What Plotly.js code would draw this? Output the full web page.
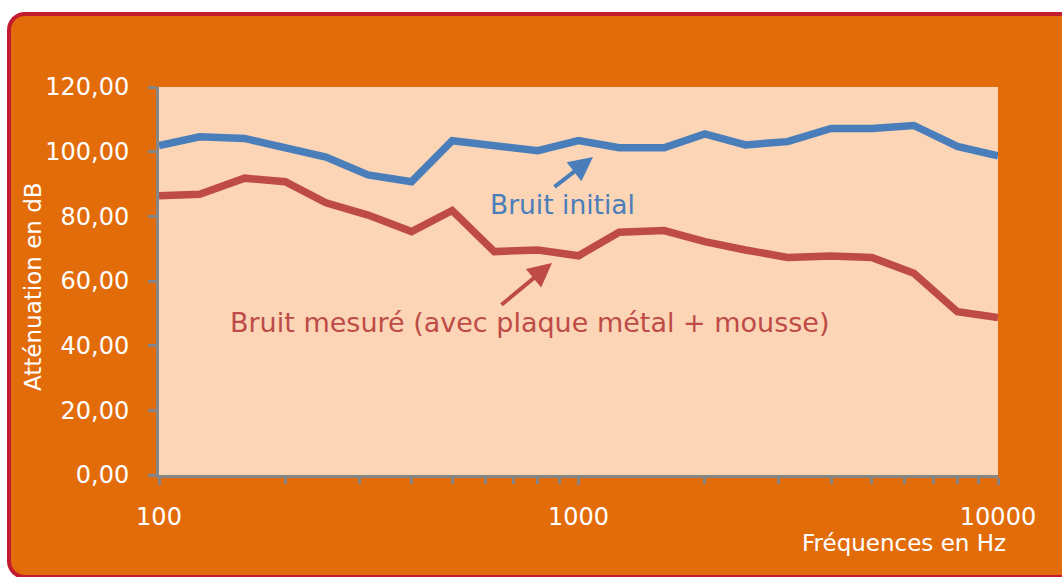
<!DOCTYPE html>
<html>
<head>
<meta charset="utf-8">
<script src="https://cdn.plot.ly/plotly-3.0.1.min.js"></script>
<style>
  html, body { margin: 0; padding: 0; background: #ffffff; overflow: hidden; width: 1062px; height: 577px; }
  #frame { position: absolute; left: 7px; top: 12px; width: 1055px; height: 567px; box-sizing: border-box;
           background: #E36C0A; border: 4px solid #C21A2E; border-right: none;
           border-radius: 18px 0 0 18px; z-index: 0; }
  #chart { position: absolute; left: 0; top: 0; width: 1062px; height: 577px; z-index: 1; }
</style>
</head>
<body>
<div id="frame"></div>
<div id="chart"></div>
<script>
// ---- data ----
const frequencies = [100, 125, 160, 200, 250, 315, 400, 500, 630, 800, 1000, 1250, 1600, 2000, 2500, 3150, 4000, 5000, 6300, 8000, 10000];
const bruitInitial = [101.9, 104.6, 104.1, 101.0, 98.3, 92.8, 90.7, 103.4, 101.8, 100.3, 103.4, 101.2, 101.2, 105.5, 102.1, 103.1, 107.2, 107.2, 108.1, 101.6, 98.7];
const bruitMesure = [86.4, 86.8, 91.8, 90.7, 84.2, 80.4, 75.3, 81.8, 69.1, 69.6, 67.8, 75.1, 75.6, 72.2, 69.6, 67.3, 67.7, 67.3, 62.4, 50.5, 48.7];
const xTickVals = [100, 1000, 10000];
const xTickText = ['100', '1000', '10000'];
const xMinorVals = [200, 300, 400, 500, 600, 700, 800, 900, 2000, 3000, 4000, 5000, 6000, 7000, 8000, 9000];
const yTickVals = [0, 20, 40, 60, 80, 100, 120];
const labelInitial = 'Bruit initial';
const labelMesure = 'Bruit mesuré (avec plaque métal + mousse)';
const xTitle = 'Fréquences en Hz';
const yTitle = 'Atténuation en dB';

// ---- layout geometry (pixels) ----
const W = 1062, H = 577;
const M = { l: 159, r: 64, t: 87, b: 102 };
const pw = W - M.l - M.r, ph = H - M.t - M.b;
const px = x => (x - M.l) / pw;
const py = y => (H - M.b - y) / ph;

const FONT = '"DejaVu Sans", sans-serif';
const BLUE = '#4A7EBB', RED = '#BE4B48', PEACH = '#FBD5B5', GREY = '#868686';

const traces = [
  { x: frequencies, y: bruitInitial, type: 'scatter', mode: 'lines', name: labelInitial,
    line: { color: BLUE, width: 7.5 }, hoverinfo: 'x+y' },
  { x: frequencies, y: bruitMesure, type: 'scatter', mode: 'lines', name: labelMesure,
    line: { color: RED, width: 7.5 }, hoverinfo: 'x+y' }
];

const layout = {
  width: W, height: H,
  margin: M,
  paper_bgcolor: 'rgba(0,0,0,0)',
  plot_bgcolor: PEACH,
  showlegend: false,
  separators: ', ',
  font: { family: FONT, color: '#ffffff' },
  xaxis: {
    type: 'log', range: [2, 4],
    tickmode: 'array', tickvals: xTickVals, ticktext: xTickText,
    ticks: 'outside', ticklen: 7, tickwidth: 3, tickcolor: GREY,
    showline: true, linecolor: GREY, linewidth: 3,
    showgrid: false, zeroline: false,
    tickfont: { family: FONT, size: 24, color: '#ffffff' },
    ticklabelstandoff: 11,
    minor: { tickmode: 'array', tickvals: xMinorVals, ticks: 'outside', ticklen: 6, tickwidth: 3, tickcolor: GREY, showgrid: false }
  },
  yaxis: {
    range: [0, 120],
    tickmode: 'array', tickvals: yTickVals, tickformat: '.2f',
    ticks: 'outside', ticklen: 8, tickwidth: 3, tickcolor: GREY,
    showline: true, linecolor: GREY, linewidth: 3,
    showgrid: false, zeroline: false,
    tickfont: { family: FONT, size: 24, color: '#ffffff' },
    ticklabelstandoff: 14
  },
  annotations: [
    { xref: 'paper', yref: 'paper', x: px(1008), y: py(543), xanchor: 'right', yanchor: 'middle',
      text: xTitle, showarrow: false, font: { family: FONT, size: 23, color: '#ffffff' } },
    { xref: 'paper', yref: 'paper', x: px(33), y: py(287), xanchor: 'center', yanchor: 'middle',
      text: yTitle, textangle: -90, showarrow: false, font: { family: FONT, size: 23, color: '#ffffff' } },
    { xref: 'paper', yref: 'paper', x: px(562), y: py(204), xanchor: 'center', yanchor: 'middle',
      text: labelInitial, showarrow: false, font: { family: FONT, size: 26.5, color: BLUE } },
    { xref: 'paper', yref: 'paper', x: px(529), y: py(322), xanchor: 'center', yanchor: 'middle',
      text: labelMesure, showarrow: false, font: { family: FONT, size: 27, color: RED } },
    { xref: 'paper', yref: 'paper', x: px(593), y: py(157), text: '', showarrow: true,
      ax: -40, ay: 31, arrowhead: 2, arrowsize: 1.2, arrowwidth: 4, arrowcolor: BLUE, standoff: 0 },
    { xref: 'paper', yref: 'paper', x: px(552), y: py(263), text: '', showarrow: true,
      ax: -52, ay: 43, arrowhead: 2, arrowsize: 1.2, arrowwidth: 4, arrowcolor: RED, standoff: 0 }
  ]
};

Plotly.newPlot('chart', traces, layout, { displayModeBar: false, staticPlot: true });
</script>
</body>
</html>
